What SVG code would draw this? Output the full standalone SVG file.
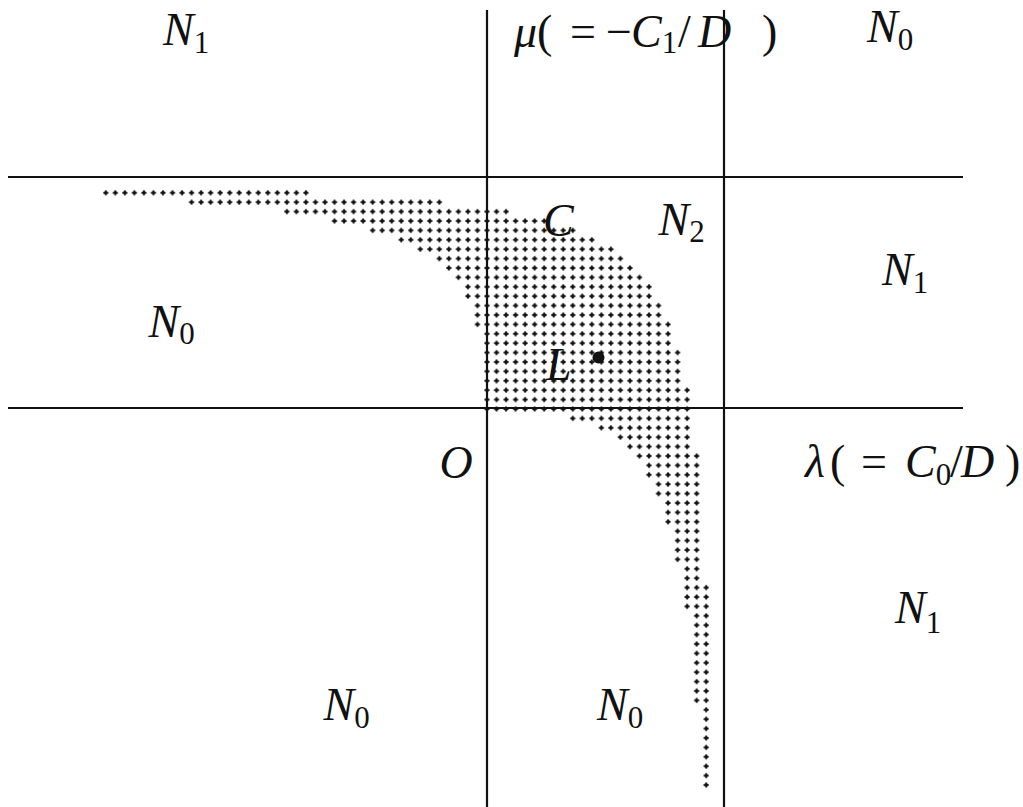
<svg xmlns="http://www.w3.org/2000/svg" width="1023" height="807" viewBox="0 0 1023 807">
<style>
.ax{stroke:#111;stroke-width:2.2;fill:none}
text{font-family:"Liberation Serif","Times New Roman",serif;font-size:46px;fill:#111}
.i{font-style:italic}
.s{font-size:31px;font-style:normal}
</style>
<defs>
<pattern id="dots" patternUnits="userSpaceOnUse" x="-0.5" y="-0.5" width="1" height="1">
<circle cx="0.5" cy="0.5" r="0.2" fill="#111"/>
<path d="M0.22 0.5H0.78M0.5 0.22V0.78" stroke="#111" stroke-width="0.15"/>
</pattern>
</defs>
<rect width="1023" height="807" fill="#fff"/>
<g id="region" transform="translate(487,409) scale(9.53,9.4)">
<path fill="url(#dots)" d="M-40.5 -23.5H-18.5v1H-40.5z M-31.5 -22.5H-4.5v1H-31.5z M-21.5 -21.5H2.5v1H-21.5z M-16.5 -20.5H6.5v1H-16.5z M-12.5 -19.5H9.5v1H-12.5z M-9.5 -18.5H11.5v1H-9.5z M-7.5 -17.5H13.5v1H-7.5z M-5.5 -16.5H14.5v1H-5.5z M-4.5 -15.5H15.5v1H-4.5z M-3.5 -14.5H16.5v1H-3.5z M-2.5 -13.5H17.5v2H-2.5z M-1.5 -11.5H18.5v2H-1.5z M-1.5 -9.5H19.5v1H-1.5z M-0.5 -8.5H19.5v2H-0.5z M-0.5 -6.5H20.5v4H-0.5z M-0.5 -2.5H21.5v3H-0.5z M8.5 0.5H21.5v1H8.5z M11.5 1.5H21.5v1H11.5z M13.5 2.5H21.5v1H13.5z M14.5 3.5H21.5v1H14.5z M15.5 4.5H22.5v1H15.5z M16.5 5.5H22.5v2H16.5z M17.5 7.5H22.5v2H17.5z M18.5 9.5H22.5v3H18.5z M19.5 12.5H22.5v4H19.5z M20.5 16.5H22.5v2H20.5z M20.5 18.5H23.5v3H20.5z M21.5 21.5H23.5v10H21.5z M22.5 31.5H23.5v9H22.5z"/>
</g>
<g id="axes">
<line class="ax" x1="8" y1="177" x2="963" y2="177"/>
<line class="ax" x1="8" y1="408" x2="963" y2="408"/>
<line class="ax" x1="487" y1="10" x2="487" y2="807"/>
<line class="ax" x1="724" y1="10" x2="724" y2="807"/>
</g>
<circle id="pointL" cx="598.5" cy="357.5" r="6" fill="#111"/>
<g id="labels">
<text id="n1-tl" class="i" x="163" y="45">N<tspan class="s" dy="8">1</tspan></text>
<text id="n0-tr" class="i" x="867" y="42">N<tspan class="s" dy="8">0</tspan></text>
<text id="n1-r" class="i" x="882" y="285">N<tspan class="s" dy="8">1</tspan></text>
<text id="n0-l" class="i" x="148.5" y="337">N<tspan class="s" dy="7">0</tspan></text>
<text id="n2" class="i" x="658.5" y="235">N<tspan class="s" dy="7">2</tspan></text>
<text id="c" class="i" x="543" y="236">C</text>
<text id="l" class="i" x="546" y="380">L</text>
<text id="o" class="i" x="439.5" y="478">O</text>
<text id="n1-br" class="i" x="895" y="623">N<tspan class="s" dy="10">1</tspan></text>
<text id="n0-bl" class="i" x="323.5" y="720">N<tspan class="s" dy="8">0</tspan></text>
<text id="n0-bm" class="i" x="597" y="720">N<tspan class="s" dy="8">0</tspan></text>
<text id="mu"><tspan class="i" x="514" y="47">μ</tspan><tspan x="537">(</tspan><tspan x="570">=</tspan><tspan x="606">−</tspan><tspan class="i" x="631">C</tspan><tspan class="s" dy="6">1</tspan><tspan x="678" dy="-6">/</tspan><tspan class="i" x="698">D</tspan><tspan x="762">)</tspan></text>
<text id="lambda"><tspan class="i" x="805" y="477">λ</tspan><tspan x="830">(</tspan><tspan x="861">=</tspan><tspan class="i" x="905">C</tspan><tspan class="s" dy="8">0</tspan><tspan x="950" dy="-8">/</tspan><tspan class="i" x="961">D</tspan><tspan x="1005">)</tspan></text>
</g>
</svg>
